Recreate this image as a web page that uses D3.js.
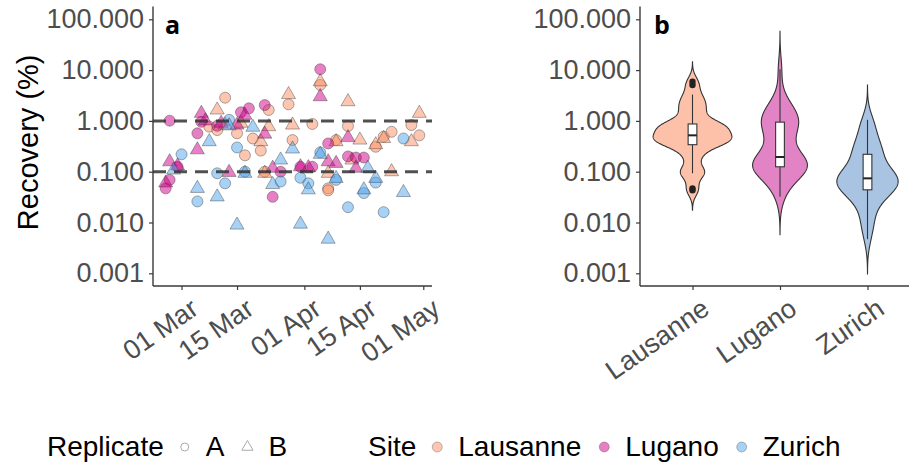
<!DOCTYPE html>
<html><head><meta charset="utf-8">
<script src="https://cdn.jsdelivr.net/npm/d3@7"></script>
<style>
body{margin:0;background:#fff}
text{font-family:"Liberation Sans",Arial,sans-serif}
</style>
</head><body>
<svg id="c" width="909" height="465"></svg>
<script>
// ---------------- data ----------------
const year = "2021";
const sites = ["Lausanne", "Lugano", "Zurich"];
const replicates = ["A", "B"];
const siteColors = ["#FC8D62", "#D0008A", "#4FA3EC"];
const violinColors = ["#FDC1AA", "#E283C6", "#A9C4E2"];
const yTickValues = [0.001, 0.01, 0.1, 1, 10, 100];
const thresholds = [0.1, 1];
const dateTicks = ["03-01", "03-15", "04-01", "04-15", "05-01"];

// [date (MM-DD), recovery %]
const lausanneA = [["03-08",0.77],["03-10",0.66],["03-12",2.86],["03-15",0.57],["03-17",0.21],["03-19",0.45],["03-21",0.26],["03-22",0.1],["03-23",1.64],["03-28",2.12],["03-29",0.42],["04-03",0.87],["04-05",5.1],["04-07",0.047],["04-07",0.043],["04-09",0.42],["04-12",0.79],["04-19",0.31],["04-21",0.49],["04-23",0.61],["04-28",0.83],["04-30",0.52]];
const lausanneB = [["03-10",1.64],["03-12",0.83],["03-16",0.9],["03-21",0.39],["03-22",0.093],["03-23",0.77],["03-28",3.3],["03-29",0.83],["04-05",5.9],["04-07",0.093],["04-09",0.39],["04-12",2.39],["04-13",0.17],["04-15",0.42],["04-19",0.34],["04-21",0.45],["04-23",0.1],["04-28",0.39],["04-30",1.41]];
const luganoA = [["02-25",0.047],["02-26",1.01],["02-26",0.069],["02-28",0.125],["03-05",0.57],["03-06",0.96],["03-10",0.8],["03-16",1.48],["03-18",1.77],["03-22",2.05],["03-24",0.032],["03-26",0.1],["03-31",0.125],["04-03",0.125],["04-05",10.4],["04-07",0.36],["04-12",0.2],["04-14",0.19],["04-16",0.19]];
const luganoB = [["02-25",0.06],["02-26",0.157],["02-28",0.13],["03-05",0.27],["03-06",1.41],["03-07",1.0],["03-11",0.9],["03-13",0.097],["03-15",0.83],["03-17",1.3],["03-22",0.55],["03-24",0.117],["03-31",0.125],["04-02",0.12],["04-05",3.0],["04-07",0.157],["04-09",0.146],["04-12",0.47],["04-14",0.117]];
const zurichA = [["03-01",0.22],["03-05",0.026],["03-10",0.093],["03-12",0.059],["03-13",1.05],["03-15",0.30],["03-17",0.10],["03-26",0.064],["03-31",0.076],["04-02",0.059],["04-05",0.24],["04-09",0.069],["04-12",0.020],["04-16",0.038],["04-19",0.061],["04-21",0.016],["04-26",0.45]];
const zurichB = [["02-27",0.108],["03-05",0.047],["03-08",0.39],["03-10",0.032],["03-13",0.8],["03-15",0.0089],["03-17",0.093],["03-19",0.75],["03-24",0.056],["03-26",0.17],["03-29",0.28],["03-31",0.0093],["04-02",0.044],["04-05",0.22],["04-07",0.0047],["04-09",0.074],["04-16",0.044],["04-17",0.117],["04-19",0.074],["04-26",0.039]];

// ---------------- build ----------------
const parse = d3.utcParse("%Y-%m-%d");
const raw = {Lausanne:{A:lausanneA,B:lausanneB}, Lugano:{A:luganoA,B:luganoB}, Zurich:{A:zurichA,B:zurichB}};
const points = [];
sites.forEach(s => replicates.forEach(r => raw[s][r].forEach(([d,v]) =>
  points.push({site:s, rep:r, date:parse(year+"-"+d), value:v}))));

const svg = d3.select("#c");
const tickColor = "#4D4D4D", axisColor = "#3a3a3a";
const tickFont = "27px";

// y scale shared (log, ggplot-like 5% expansion)
const yTop = 19.3, yBot = 273.3;
const decadePx = (yBot - yTop) / 5;
const y = d3.scaleLog().domain([0.001, 100]).range([yBot, yTop]);
const panelTop = yTop - 0.25 * decadePx, panelBot = yBot + 0.25 * decadePx;

function yAxis(g, x0) {
  g.attr("transform", `translate(${x0},0)`)
   .call(d3.axisLeft(y).tickValues(yTickValues).tickFormat(d3.format(".3f")).tickSize(4).tickPadding(5));
  g.select(".domain").remove();
  g.selectAll(".tick line").attr("stroke", axisColor).attr("stroke-width", 1.2);
  g.selectAll(".tick text").attr("fill", tickColor).style("font-size", tickFont).style("font-family", '"Liberation Sans",Arial,sans-serif');
  g.append("line").attr("x1",0).attr("x2",0).attr("y1",panelTop).attr("y2",panelBot).attr("stroke",axisColor).attr("stroke-width",1.4);
}
function styleXLabels(g) {
  g.selectAll(".tick text").attr("fill", tickColor).style("font-size", tickFont).style("font-family",'"Liberation Sans",Arial,sans-serif')
    .attr("x",0).attr("y",0).attr("dy","0.71em").style("text-anchor","end")
    .attr("transform","translate(7,11) rotate(-35)");
}

// ---------- Panel a ----------
const ax0 = 153, ax1 = 432;
const dExt = d3.extent(points, d => d.date);
const pad = (dExt[1] - dExt[0]) * 0.05;
const x = d3.scaleUtc().domain([new Date(+dExt[0] - pad), new Date(+dExt[1] + pad)]).range([ax0, ax1]);
const color = d3.scaleOrdinal().domain(sites).range(siteColors);

const pa = svg.append("g");
const sym = d3.scaleOrdinal().domain(replicates).range([d3.symbolCircle, d3.symbolTriangle]);
const symSize = d3.scaleOrdinal().domain(replicates).range([95, 85]);
pa.append("g").selectAll("path").data(points).join("path")
  .attr("transform", d => `translate(${x(d.date)},${y(d.value)})`)
  .attr("d", d => d3.symbol(sym(d.rep), symSize(d.rep))())
  .attr("fill", d => color(d.site)).attr("fill-opacity", 0.5)
  .attr("stroke", "#333").attr("stroke-opacity", 0.45).attr("stroke-width", 0.9);

pa.append("g").selectAll("line").data(thresholds).join("line")
  .attr("x1", ax0).attr("x2", ax1).attr("y1", d => y(d)).attr("y2", d => y(d))
  .attr("stroke", "#333").attr("stroke-opacity", 0.85).attr("stroke-width", 3)
  .attr("stroke-dasharray", "13,8");

yAxis(pa.append("g"), ax0);

const xa = pa.append("g").attr("transform", `translate(0,${panelBot})`)
  .call(d3.axisBottom(x).tickValues(dateTicks.map(t => parse(year+"-"+t))).tickFormat(d3.utcFormat("%d %b")).tickSize(4));
xa.select(".domain").remove();
xa.append("line").attr("x1", ax0).attr("x2", ax1).attr("stroke", axisColor).attr("stroke-width", 1.4);
xa.selectAll(".tick line").attr("stroke", axisColor).attr("stroke-width", 1.2);
styleXLabels(xa);

svg.append("text").text("Recovery (%)").attr("transform", `translate(38,${(panelTop+panelBot)/2 - 4}) rotate(-90)`)
  .attr("text-anchor","middle").style("font-size","29px").attr("fill","#000");
svg.append("text").text("a").attr("x",165).attr("y",34).style("font-family",'"Open Sans",sans-serif').style("font-weight","bold").style("font-size","25px");

// ---------- Panel b ----------
const bx0 = 640, bx1 = 920;
const xb = d3.scalePoint().domain(sites).range([bx0, bx1]).padding(0.6);
const step = xb.step();
const pb = svg.append("g");

function kde(vals) {
  const s = vals.slice().sort(d3.ascending), n = s.length;
  const sd = d3.deviation(s);
  const iqr = d3.quantileSorted(s, 0.75) - d3.quantileSorted(s, 0.25);
  const bw = 0.9 * Math.min(sd, iqr / 1.34) * Math.pow(n, -0.2);
  const lo = s[0] - 3 * bw, hi = s[n - 1] + 3 * bw;
  return d3.range(512).map(i => {
    const t = lo + (hi - lo) * i / 511;
    const dens = d3.sum(s, v => Math.exp(-0.5 * ((t - v) / bw) ** 2)) / (n * bw * Math.sqrt(2 * Math.PI));
    return [t, dens];
  });
}
const groups = sites.map(s => {
  const vals = points.filter(p => p.site === s).map(p => Math.log10(p.value));
  return {site: s, vals, dens: kde(vals)};
});
const maxD = d3.max(groups, g => d3.max(g.dens, d => d[1]));

groups.forEach((g, i) => {
  const cx = xb(g.site);
  const area = d3.area().y(d => y(Math.pow(10, d[0])))
    .x0(d => cx - d[1] / maxD * 0.45 * step).x1(d => cx + d[1] / maxD * 0.45 * step);
  pb.append("path").datum(g.dens).attr("d", area)
    .attr("fill", violinColors[i]).attr("stroke", "#333").attr("stroke-width", 1.1);

  // boxplot in log space
  const s = g.vals.slice().sort(d3.ascending);
  const q1 = d3.quantileSorted(s, 0.25), med = d3.quantileSorted(s, 0.5), q3 = d3.quantileSorted(s, 0.75);
  const iqr = q3 - q1;
  const lowW = d3.min(s.filter(v => v >= q1 - 1.5 * iqr));
  const hiW = d3.max(s.filter(v => v <= q3 + 1.5 * iqr));
  const outs = s.filter(v => v < q1 - 1.5 * iqr || v > q3 + 1.5 * iqr);
  const Y = v => y(Math.pow(10, v));
  const bw = 0.1 * step;
  pb.append("line").attr("x1",cx).attr("x2",cx).attr("y1",Y(hiW)).attr("y2",Y(q3)).attr("stroke","#333").attr("stroke-width",1.1);
  pb.append("line").attr("x1",cx).attr("x2",cx).attr("y1",Y(q1)).attr("y2",Y(lowW)).attr("stroke","#333").attr("stroke-width",1.1);
  pb.append("rect").attr("x",cx-bw/2).attr("width",bw).attr("y",Y(q3)).attr("height",Y(q1)-Y(q3))
    .attr("fill","#fff").attr("stroke","#333").attr("stroke-width",1.1);
  pb.append("line").attr("x1",cx-bw/2).attr("x2",cx+bw/2).attr("y1",Y(med)).attr("y2",Y(med)).attr("stroke","#222").attr("stroke-width",2);
  pb.selectAll(null).data(outs).join("circle").attr("cx",cx).attr("cy",d=>Y(d)).attr("r",3.2).attr("fill","#222");
});

yAxis(pb.append("g"), bx0);
const xba = pb.append("g").attr("transform", `translate(0,${panelBot})`).call(d3.axisBottom(xb).tickSize(4));
xba.select(".domain").remove();
xba.append("line").attr("x1", bx0).attr("x2", bx1).attr("stroke", axisColor).attr("stroke-width", 1.4);
xba.selectAll(".tick line").attr("stroke", axisColor).attr("stroke-width", 1.2);
styleXLabels(xba);
svg.append("text").text("b").attr("x",654).attr("y",34).style("font-family",'"Open Sans",sans-serif').style("font-weight","bold").style("font-size","25px");

// ---------- Legend ----------
const lg = svg.append("g");
const ly = 456, ky = 447, fs = "28px";
function flow(startX, title, items) {
  let cx = startX;
  const t = lg.append("text").text(title).attr("x", cx).attr("y", ly).style("font-size", fs);
  cx += t.node().getComputedTextLength() + 21;
  items.forEach(it => {
    it.key(cx);
    const tt = lg.append("text").text(it.label).attr("x", cx + 21).attr("y", ly).style("font-size", fs);
    cx += 21 + tt.node().getComputedTextLength() + 23;
  });
}
flow(47, "Replicate", replicates.map(r => ({label: r, key: kx => lg.append("path")
  .attr("transform", `translate(${kx},${ky})`).attr("d", d3.symbol(sym(r), r === "A" ? 50 : 55)())
  .attr("fill","none").attr("stroke","#aaa").attr("stroke-width",1)})));
flow(368, "Site", sites.map(s => ({label: s, key: kx => lg.append("circle")
  .attr("cx", kx).attr("cy", ky).attr("r", 5).attr("fill", color(s)).attr("fill-opacity", 0.5)
  .attr("stroke","#333").attr("stroke-opacity",0.3)})));
</script>
</body></html>
